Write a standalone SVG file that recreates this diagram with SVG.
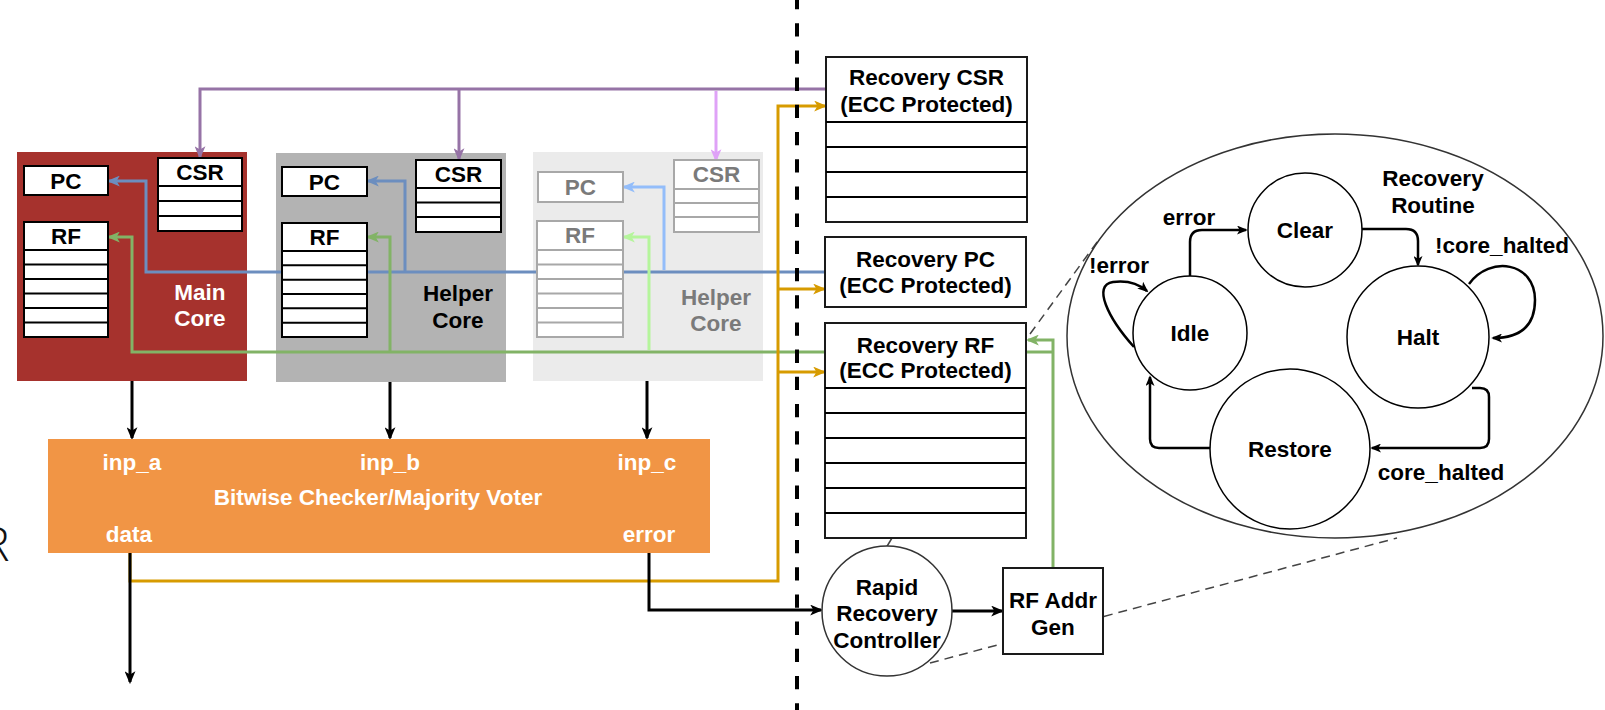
<svg xmlns="http://www.w3.org/2000/svg" width="1605" height="710" viewBox="0 0 1605 710">
  <defs>
    <style>
      .t { font-family: "Liberation Sans", Arial, sans-serif; font-weight: bold; font-size: 22.5px; text-anchor: middle; fill: #000; }
      .tw { fill: #fff; }
      .tg { fill: #7a7a7a; }
      .reg { fill: #fff; stroke: #000; stroke-width: 2; }
      .regl { stroke: #000; stroke-width: 2; fill: none; }
      .regf { fill: #fff; stroke: #a8a8a8; stroke-width: 2; }
      .reglf { stroke: #a8a8a8; stroke-width: 2; fill: none; }
      .box { fill: #fff; stroke: #1a1a1a; stroke-width: 2; }
      .state { fill: #fff; stroke: #000; stroke-width: 1.5; }
      .w { fill: none; stroke-width: 3; stroke-linejoin: miter; }
      .fsm { fill: none; stroke: #000; stroke-width: 2.5; }
      .callout { fill: none; stroke: #444; stroke-width: 1.5; stroke-dasharray: 9 6; }
    </style>
    <marker id="ah-black" viewBox="0 0 12 10" refX="10" refY="5" markerWidth="13" markerHeight="11" orient="auto" markerUnits="userSpaceOnUse">
      <path d="M0,0 L12,5 L0,10 L3,5 Z" fill="#000"/>
    </marker>
    <marker id="ah-fsm" viewBox="0 0 12 10" refX="10" refY="5" markerWidth="11" markerHeight="9" orient="auto" markerUnits="userSpaceOnUse">
      <path d="M0,0 L12,5 L0,10 L3,5 Z" fill="#000"/>
    </marker>
    <marker id="ah-purple" viewBox="0 0 12 10" refX="10" refY="5" markerWidth="13" markerHeight="11" orient="auto" markerUnits="userSpaceOnUse">
      <path d="M0,0 L12,5 L0,10 L3,5 Z" fill="#9673a6"/>
    </marker>
    <marker id="ah-lpurple" viewBox="0 0 12 10" refX="10" refY="5" markerWidth="13" markerHeight="11" orient="auto" markerUnits="userSpaceOnUse">
      <path d="M0,0 L12,5 L0,10 L3,5 Z" fill="#dfa2f7"/>
    </marker>
    <marker id="ah-blue" viewBox="0 0 12 10" refX="10" refY="5" markerWidth="13" markerHeight="11" orient="auto" markerUnits="userSpaceOnUse">
      <path d="M0,0 L12,5 L0,10 L3,5 Z" fill="#6c8ebf"/>
    </marker>
    <marker id="ah-lblue" viewBox="0 0 12 10" refX="10" refY="5" markerWidth="13" markerHeight="11" orient="auto" markerUnits="userSpaceOnUse">
      <path d="M0,0 L12,5 L0,10 L3,5 Z" fill="#93bdfa"/>
    </marker>
    <marker id="ah-green" viewBox="0 0 12 10" refX="10" refY="5" markerWidth="13" markerHeight="11" orient="auto" markerUnits="userSpaceOnUse">
      <path d="M0,0 L12,5 L0,10 L3,5 Z" fill="#82b366"/>
    </marker>
    <marker id="ah-lgreen" viewBox="0 0 12 10" refX="10" refY="5" markerWidth="13" markerHeight="11" orient="auto" markerUnits="userSpaceOnUse">
      <path d="M0,0 L12,5 L0,10 L3,5 Z" fill="#b5f59c"/>
    </marker>
    <marker id="ah-orange" viewBox="0 0 12 10" refX="10" refY="5" markerWidth="13" markerHeight="11" orient="auto" markerUnits="userSpaceOnUse">
      <path d="M0,0 L12,5 L0,10 L3,5 Z" fill="#d79b00"/>
    </marker>
  </defs>

  <rect x="0" y="0" width="1605" height="710" fill="#fff"/>

  <!-- clipped letter at the left border -->
  <text x="-19" y="561" font-family="'Open Sans', 'DejaVu Sans', sans-serif" font-weight="300" font-size="48" fill="#111">R</text>

  <!-- core backgrounds -->
  <g id="main-core-bg">
    <rect x="17" y="152" width="230" height="229" fill="#a6322d"/>
    <text class="t tw" x="200" y="300">Main</text>
    <text class="t tw" x="200" y="326">Core</text>
  </g>
  <g id="helper-core-1-bg">
    <rect x="276" y="153" width="230" height="229" fill="#b3b3b3"/>
    <text class="t" x="458" y="301">Helper</text>
    <text class="t" x="458" y="328">Core</text>
  </g>
  <g id="helper-core-2-bg">
    <rect x="533" y="152" width="230" height="229" fill="#ebebeb"/>
    <text class="t tg" x="716" y="305">Helper</text>
    <text class="t tg" x="716" y="331">Core</text>
  </g>

  <!-- callout lines of the recovery routine -->
  <g id="callouts">
    <path class="callout" d="M930,663 L1397,538"/>
    <path class="callout" d="M1030,334 L1100,238"/>
    <path d="M892,538 L886,548" stroke="#444" stroke-width="1.5" fill="none"/>
  </g>

  <g id="connectors">
    <!-- CSR restore bus -->
    <path class="w" stroke="#9673a6" d="M826,89 H200 V157" marker-end="url(#ah-purple)"/>
    <path class="w" stroke="#9673a6" d="M459,89 V159" marker-end="url(#ah-purple)"/>
    <path class="w" stroke="#dfa2f7" d="M716,91 V160" marker-end="url(#ah-lpurple)"/>
    <!-- PC restore bus -->
    <path class="w" stroke="#6c8ebf" d="M825,272 H146 V181 H109" marker-end="url(#ah-blue)"/>
    <path class="w" stroke="#6c8ebf" d="M405,272 V181 H368" marker-end="url(#ah-blue)"/>
    <path class="w" stroke="#93bdfa" d="M664,270 V187 H624" marker-end="url(#ah-lblue)"/>
    <!-- RF restore bus -->
    <path class="w" stroke="#82b366" d="M1053,352 H132 V237 H109" marker-end="url(#ah-green)"/>
    <path class="w" stroke="#82b366" d="M390,352 V237 H368" marker-end="url(#ah-green)"/>
    <path class="w" stroke="#b5f59c" d="M649,350 V237 H624" marker-end="url(#ah-lgreen)"/>
    <path class="w" stroke="#82b366" d="M1053,568 V340 H1028" marker-end="url(#ah-green)"/>
    <!-- checked data into the recovery storage -->
    <path class="w" stroke="#d79b00" d="M130,553 V581 H778 V106 H825" marker-end="url(#ah-orange)"/>
    <path class="w" stroke="#d79b00" d="M778,289 H824" marker-end="url(#ah-orange)"/>
    <path class="w" stroke="#d79b00" d="M778,372 H824" marker-end="url(#ah-orange)"/>
    <!-- core outputs to the voter -->
    <path class="w" stroke="#000" d="M132,381 V438" marker-end="url(#ah-black)"/>
    <path class="w" stroke="#000" d="M390,382 V438" marker-end="url(#ah-black)"/>
    <path class="w" stroke="#000" d="M647,381 V438" marker-end="url(#ah-black)"/>
    <path class="w" stroke="#000" d="M130,553 V682" marker-end="url(#ah-black)"/>
    <path class="w" stroke="#000" d="M649,553 V610 H821" marker-end="url(#ah-black)"/>
    <path class="w" stroke="#000" stroke-width="3.5" d="M952,611 H1002" marker-end="url(#ah-black)"/>
  </g>

  <!-- main core registers -->
  <g id="main-core">
    <rect class="reg" x="24" y="166" width="84" height="29"/>
    <text class="t" x="66" y="189">PC</text>
    <rect class="reg" x="158" y="158" width="84" height="73"/>
    <path class="regl" d="M158,186 H242 M158,201 H242 M158,216 H242"/>
    <text class="t" x="200" y="180">CSR</text>
    <rect class="reg" x="24" y="222" width="84" height="115"/>
    <path class="regl" d="M24,250 H108 M24,264.5 H108 M24,279 H108 M24,293.5 H108 M24,308 H108 M24,322.5 H108"/>
    <text class="t" x="66" y="244">RF</text>
  </g>

  <!-- first helper core registers -->
  <g id="helper-core-1">
    <rect class="reg" x="282" y="167" width="85" height="29"/>
    <text class="t" x="324.5" y="190">PC</text>
    <rect class="reg" x="416" y="160" width="85" height="72"/>
    <path class="regl" d="M416,188 H501 M416,202.5 H501 M416,217 H501"/>
    <text class="t" x="458.5" y="182">CSR</text>
    <rect class="reg" x="282" y="223" width="85" height="114"/>
    <path class="regl" d="M282,251 H367 M282,265.3 H367 M282,279.7 H367 M282,294 H367 M282,308.3 H367 M282,322.7 H367"/>
    <text class="t" x="324.5" y="245">RF</text>
  </g>

  <!-- second helper core registers (faded) -->
  <g id="helper-core-2">
    <rect class="regf" x="538" y="172" width="85" height="30"/>
    <text class="t tg" x="580.5" y="195">PC</text>
    <rect class="regf" x="674" y="160" width="85" height="72"/>
    <path class="reglf" d="M674,189 H759 M674,203 H759 M674,217 H759"/>
    <text class="t tg" x="716.5" y="182">CSR</text>
    <rect class="regf" x="537" y="221" width="86" height="116"/>
    <path class="reglf" d="M537,250 H623 M537,264.5 H623 M537,279 H623 M537,293.5 H623 M537,308 H623 M537,322.5 H623"/>
    <text class="t tg" x="580" y="243">RF</text>
  </g>

  <!-- voter -->
  <g id="voter">
    <rect x="48" y="439" width="662" height="114" fill="#f19545"/>
    <text class="t tw" x="132" y="470">inp_a</text>
    <text class="t tw" x="390" y="470">inp_b</text>
    <text class="t tw" x="647" y="470">inp_c</text>
    <text class="t tw" x="378" y="505">Bitwise Checker/Majority Voter</text>
    <text class="t tw" x="129" y="542">data</text>
    <text class="t tw" x="649" y="542">error</text>
  </g>

  <!-- recovery storage -->
  <g id="recovery-csr">
    <rect class="box" x="826" y="57" width="201" height="165"/>
    <path class="regl" d="M826,122 H1027 M826,147 H1027 M826,172 H1027 M826,197 H1027"/>
    <text class="t" x="926.5" y="85">Recovery CSR</text>
    <text class="t" x="926.5" y="112">(ECC Protected)</text>
  </g>
  <g id="recovery-pc">
    <rect class="box" x="825" y="237" width="201" height="70"/>
    <text class="t" x="925.5" y="267">Recovery PC</text>
    <text class="t" x="925.5" y="293">(ECC Protected)</text>
  </g>
  <g id="recovery-rf">
    <rect class="box" x="825" y="323" width="201" height="215"/>
    <path class="regl" d="M825,388 H1026 M825,413 H1026 M825,438 H1026 M825,463 H1026 M825,488 H1026 M825,513 H1026"/>
    <text class="t" x="925.5" y="353">Recovery RF</text>
    <text class="t" x="925.5" y="378">(ECC Protected)</text>
  </g>

  <!-- recovery control -->
  <g id="rapid-recovery-controller">
    <circle cx="887" cy="611" r="65" fill="#fff" stroke="#333" stroke-width="1.5"/>
    <text class="t" x="887" y="595">Rapid</text>
    <text class="t" x="887" y="621">Recovery</text>
    <text class="t" x="887" y="648">Controller</text>
  </g>
  <g id="rf-addr-gen">
    <rect class="box" x="1003" y="568" width="100" height="86"/>
    <text class="t" x="1053" y="608">RF Addr</text>
    <text class="t" x="1053" y="635">Gen</text>
  </g>

  <!-- recovery routine state machine -->
  <g id="recovery-routine">
    <ellipse cx="1335" cy="336" rx="268" ry="202" fill="#fff" stroke="#333" stroke-width="1.5"/>
    <text class="t" x="1433" y="186">Recovery</text>
    <text class="t" x="1433" y="213">Routine</text>
  </g>
  <g id="fsm-transitions">
    <path class="fsm" d="M1190,276 V242 Q1190,230 1202,230 H1246" marker-end="url(#ah-fsm)"/>
    <path class="fsm" d="M1362,229 H1406 Q1418,229 1418,241 V265" marker-end="url(#ah-fsm)"/>
    <path class="fsm" d="M1472,388 H1480 Q1489,388 1489,397 V439 Q1489,448 1480,448 H1372" marker-end="url(#ah-fsm)"/>
    <path class="fsm" d="M1211,448 H1159 Q1150,448 1150,439 V377" marker-end="url(#ah-fsm)"/>
    <path class="fsm" d="M1469,284 C1490,255 1535,262 1535,300 C1535,328 1518,338 1493,338" marker-end="url(#ah-fsm)"/>
    <path class="fsm" d="M1134,347 C1108,318 1092,285 1113,282 C1128,280 1140,285 1147,291" marker-end="url(#ah-fsm)"/>
    <text class="t" x="1189" y="225">error</text>
    <text class="t" x="1119" y="273">!error</text>
    <text class="t" x="1502" y="253">!core_halted</text>
    <text class="t" x="1441" y="480">core_halted</text>
  </g>
  <g id="state-clear">
    <circle class="state" cx="1305" cy="230" r="57"/>
    <text class="t" x="1305" y="238">Clear</text>
  </g>
  <g id="state-idle">
    <circle class="state" cx="1190" cy="333" r="57"/>
    <text class="t" x="1190" y="341">Idle</text>
  </g>
  <g id="state-halt">
    <circle class="state" cx="1418" cy="337" r="71"/>
    <text class="t" x="1418" y="345">Halt</text>
  </g>
  <g id="state-restore">
    <circle class="state" cx="1290" cy="449" r="80"/>
    <text class="t" x="1290" y="457">Restore</text>
  </g>

  <!-- hardware boundary -->
  <line id="boundary" x1="797" y1="-4" x2="797" y2="712" stroke="#000" stroke-width="4" stroke-dasharray="13.3 13.9"/>
</svg>
